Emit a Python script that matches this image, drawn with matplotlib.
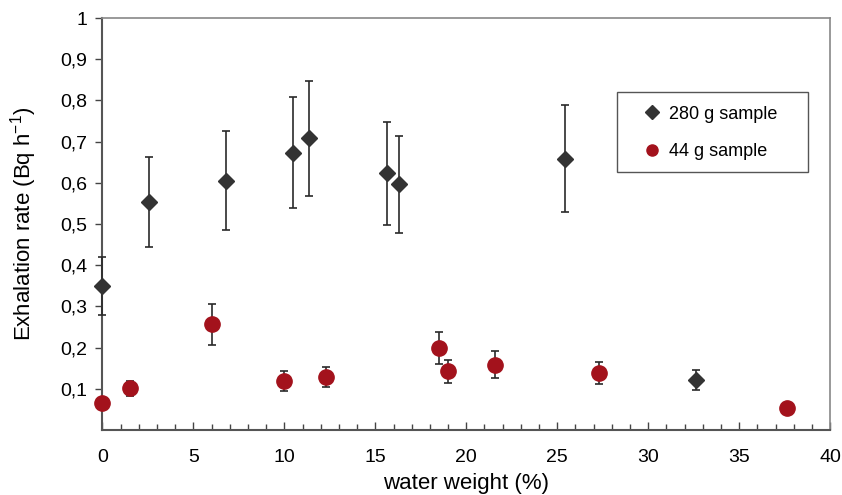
import matplotlib
matplotlib.use("Agg")
import matplotlib.pyplot as plt
from matplotlib.lines import Line2D
from matplotlib.patches import Rectangle
from matplotlib.ticker import FixedLocator, FuncFormatter, MultipleLocator

plt.rcParams['font.family'] = ['Liberation Sans', 'DejaVu Sans']

# 280 g sample
x280 = [0.0, 2.58, 6.8, 10.49, 11.37, 15.66, 16.3, 25.42, 32.6]
y280 = [0.35, 0.553, 0.605, 0.673, 0.708, 0.623, 0.596, 0.659, 0.121]
e280 = [0.07, 0.11, 0.12, 0.135, 0.14, 0.125, 0.118, 0.131, 0.025]

# 44 g sample
x44 = [0.0, 1.53, 6.0, 10.0, 12.3, 18.5, 19.0, 21.58, 27.3, 37.62]
y44 = [0.066, 0.101, 0.257, 0.119, 0.129, 0.199, 0.143, 0.159, 0.138, 0.053]
e44 = [0.0, 0.019, 0.05, 0.024, 0.025, 0.039, 0.028, 0.032, 0.026, 0.0]

yticks = [0.1, 0.2, 0.3, 0.4, 0.5, 0.6, 0.7, 0.8, 0.9, 1.0]
xticks = [0, 5, 10, 15, 20, 25, 30, 35, 40]

c280 = '#333333'
c44 = '#a3121c'

fig = plt.figure(figsize=(8.42, 4.95), dpi=100)
ax = fig.add_axes([0.1215, 0.1313, 0.8646, 0.8323])

for xs, ys, es, fmt, col, ms in [(x280, y280, e280, 'D', c280, 8),
                                  (x44, y44, e44, 'o', c44, 11)]:
    cont = ax.errorbar(xs, ys, yerr=es, fmt=fmt, color=col, ms=ms,
                       ecolor='#2a2a2a', elinewidth=1.2, capsize=3, capthick=1.2,
                       zorder=3)
    for art in cont.lines:
        if art is None:
            continue
        if isinstance(art, tuple):
            for a in art:
                a.set_clip_on(False)
        else:
            art.set_clip_on(False)
    for coll in cont[2]:
        coll.set_clip_on(False)

ax.set_xlim(0, 40)
ax.set_ylim(0, 1)
ax.xaxis.set_major_locator(FixedLocator(xticks))
ax.xaxis.set_minor_locator(MultipleLocator(1))
ax.yaxis.set_major_locator(FixedLocator(yticks))
ax.yaxis.set_major_formatter(FuncFormatter(lambda v, p: ('%g' % v).replace('.', ',')))

ax.tick_params(axis='x', which='major', direction='in', length=6, width=1, color='#444444',
               labelsize=14, pad=14)
ax.tick_params(axis='x', which='minor', direction='in', length=4, width=1, color='#444444')
ax.tick_params(axis='y', which='major', direction='out', length=5, width=1, color='#444444',
               labelsize=14, pad=6)

for s in ['left', 'bottom']:
    ax.spines[s].set_color('#555555')
    ax.spines[s].set_linewidth(1.5)
for s in ['top', 'right']:
    ax.spines[s].set_color('#888888')
    ax.spines[s].set_linewidth(1.2)

ax.set_xlabel('water weight (%)', fontsize=16, labelpad=5)
ax.set_ylabel('Exhalation rate (Bq h$^{\\mathregular{-1}}$)', fontsize=16, labelpad=15)

# legend frame (drawn separately to match the reference's wide box)
ax.add_patch(Rectangle((0.707, 0.626), 0.262, 0.194, transform=ax.transAxes,
                       facecolor='white', edgecolor='#555555', lw=1.0, zorder=4))

handles = [Line2D([], [], marker='D', color=c280, ls='none', ms=7),
           Line2D([], [], marker='o', color=c44, ls='none', ms=8)]
leg = ax.legend(handles, ['280 g sample', '44 g sample'],
                loc='upper left', bbox_to_anchor=(0.715, 0.82), fontsize=13,
                frameon=False, handletextpad=0.1, borderpad=0.75, labelspacing=1.15,
                handlelength=1.7, borderaxespad=0)
leg.set_zorder(5)

fig.savefig('out.png', dpi=100)
